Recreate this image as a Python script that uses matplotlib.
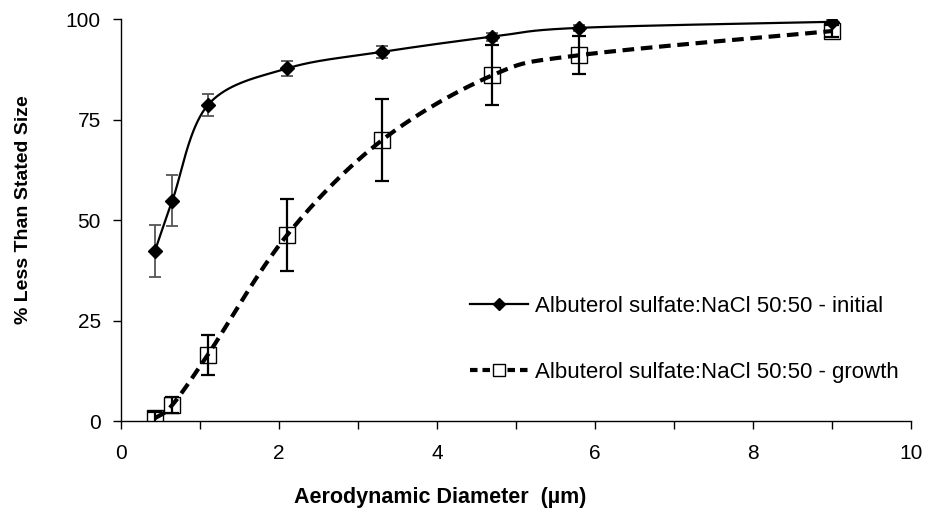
import numpy as np
import matplotlib
matplotlib.use("Agg")
import matplotlib.pyplot as plt
from matplotlib.ticker import MultipleLocator

plt.rcParams['font.family'] = ['Liberation Sans', 'DejaVu Sans']

# data
diam_init = [0.43, 0.65, 1.1, 2.1, 3.3, 4.7, 5.8, 9.0]
pct_init = [42.3, 54.8, 78.6, 87.7, 91.8, 95.6, 97.8, 99.3]
err_init = [6.4, 6.4, 2.7, 1.8, 1.5, 1.0, 0.8, 0.8]

diam_grow = [0.43, 0.65, 1.1, 2.1, 3.3, 4.7, 5.8, 9.0]
pct_grow = [0.7, 4.0, 16.5, 46.2, 69.8, 86.0, 91.0, 97.0]
err_grow = [1.5, 2.0, 5.0, 9.0, 10.2, 7.5, 4.8, 1.5]

label_init = "Albuterol sulfate:NaCl 50:50 - initial"
label_grow = "Albuterol sulfate:NaCl 50:50 - growth"

xmax, ymax = 10, 100
px_w, px_h = 790.0, 402.0


def smooth(xs, ys, n=40):
    # Excel-style smoothed line: cubic Bezier through the points, in screen space
    p = np.column_stack([np.array(xs) / xmax * px_w, np.array(ys) / ymax * px_h])
    pts = np.vstack([p[0], p, p[-1]])
    out = []
    t = np.linspace(0, 1, n)[:, None]
    for i in range(1, len(pts) - 2):
        p0, p1 = pts[i], pts[i + 1]
        c1 = p0 + (pts[i + 1] - pts[i - 1]) / 6.0
        c2 = p1 - (pts[i + 2] - pts[i]) / 6.0
        seg = (1 - t) ** 3 * p0 + 3 * (1 - t) ** 2 * t * c1 + 3 * (1 - t) * t ** 2 * c2 + t ** 3 * p1
        out.append(seg if i == 1 else seg[1:])
    out = np.vstack(out)
    return out[:, 0] / px_w * xmax, out[:, 1] / px_h * ymax


fig = plt.figure(figsize=(9.32, 5.15), dpi=100)
ax = fig.add_axes([0.1298, 0.1825, 0.8477, 0.7806])

# initial
sx, sy = smooth(diam_init, pct_init)
ax.plot(sx, sy, color='black', lw=1.6, zorder=3)
ax.errorbar(diam_init, pct_init, yerr=err_init, fmt='none', ecolor='#555555',
            elinewidth=1.3, capsize=4, capthick=1.3, zorder=2)
ax.plot(diam_init, pct_init, 'D', color='black', ms=7, zorder=4)

# growth
gx, gy = smooth(diam_grow, pct_grow)
ax.plot(gx, gy, color='black', lw=3, dashes=(2.8, 1.6), zorder=3)
ax.errorbar(diam_grow, pct_grow, yerr=err_grow, fmt='none', ecolor='black',
            elinewidth=1.6, capsize=5, capthick=1.6, zorder=5)
ax.plot(diam_grow, pct_grow, 's', mfc='none', mec='black', mew=1.0, ms=11, zorder=4)

# legend proxies
h1, = ax.plot([], [], color='black', lw=1.6, marker='D', ms=6)
h2, = ax.plot([], [], color='black', lw=3, dashes=(1.8, 1.2), marker='s',
              mfc='white', mec='black', mew=1.0, ms=9)
ax.legend([h1, h2], [label_init, label_grow], loc='center left',
          bbox_to_anchor=(0.442, 0.203), frameon=False, fontsize=16,
          handlelength=2.6, handletextpad=0.3, labelspacing=2.05, borderpad=0,
          borderaxespad=0)

ax.set_xlim(0, xmax)
ax.set_ylim(0, ymax)
ax.xaxis.set_major_locator(MultipleLocator(2))
ax.xaxis.set_minor_locator(MultipleLocator(1))
ax.yaxis.set_major_locator(MultipleLocator(25))
ax.tick_params(axis='both', which='both', direction='out', length=5.5, width=1,
               labelsize=15, colors='black')
ax.tick_params(axis='x', pad=11)
ax.tick_params(axis='y', pad=9)
for s in ['top', 'right']:
    ax.spines[s].set_visible(False)
for s in ['left', 'bottom']:
    ax.spines[s].set_linewidth(1)

ax.set_xlabel('Aerodynamic Diameter  (µm)', fontsize=15.5, fontweight='bold', va='center')
ax.xaxis.set_label_coords(0.404, -0.19)
ax.set_ylabel('% Less Than Stated Size', fontsize=14, fontweight='bold', va='center')
ax.yaxis.set_label_coords(-0.124, 0.525)

fig.savefig('out.png', dpi=100)
